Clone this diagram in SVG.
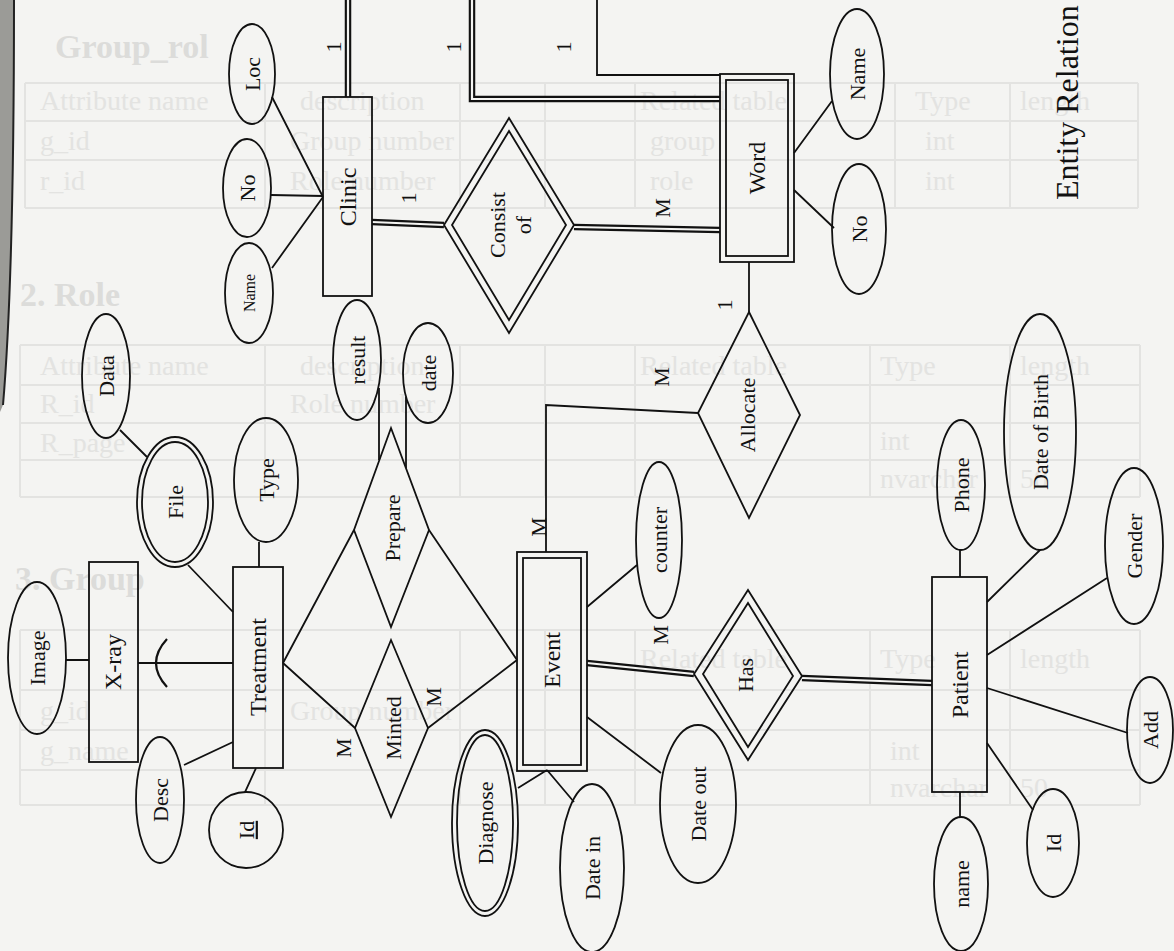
<svg xmlns="http://www.w3.org/2000/svg" width="1174" height="951" viewBox="0 0 1174 951">
<defs>
<style>
.paper{fill:#f4f4f2}
.ghost{fill:#e3e3e1;font-family:"Liberation Serif","Times New Roman",serif;font-size:28px}
.ghostb{font-weight:bold;font-size:34px;fill:#dcdcda}
.gl{stroke:#e3e3e1;stroke-width:2;fill:none}
.sh{fill:none;stroke:#111;stroke-width:1.8}
.ln{stroke:#111;stroke-width:1.8;fill:none}
.dbl{stroke:#111;stroke-width:6.5;fill:none;stroke-linejoin:miter}
.dblin{stroke:#f4f4f2;stroke-width:2.2;fill:none;stroke-linejoin:miter}
.t{font-family:"Liberation Serif","Times New Roman",serif;fill:#111;font-size:22px;text-anchor:middle}
.e{font-size:24px}
.s{font-size:16px}
.card{font-family:"Liberation Serif","Times New Roman",serif;fill:#111;font-size:22px;text-anchor:middle}
</style>
</defs>

<rect class="paper" x="0" y="0" width="1174" height="951"/>

<!-- show-through from the facing page -->
<g id="show-through">
  <g class="gl">
    <path d="M25,83 H1138 M25,121 H1138 M25,160 H1138 M25,208 H1138"/>
    <path d="M25,83 V208 M265,83 V208 M460,83 V208 M545,83 V208 M635,83 V208 M895,83 V208 M1010,83 V208 M1138,83 V208"/>
    <path d="M20,345 H1140 M20,385 H1140 M20,423 H1140 M20,460 H1140 M20,497 H1140"/>
    <path d="M20,345 V497 M265,345 V497 M460,345 V497 M545,345 V497 M635,345 V497 M870,345 V497 M1010,345 V497 M1140,345 V497"/>
    <path d="M20,630 H1140 M20,690 H1140 M20,730 H1140 M20,770 H1140 M20,805 H1140"/>
    <path d="M20,630 V805 M265,630 V805 M460,630 V805 M545,630 V805 M635,630 V805 M870,630 V805 M1010,630 V805 M1140,630 V805"/>
  </g>
  <text class="ghost ghostb" x="55" y="58">Group_rol</text>
  <text class="ghost" x="40" y="110">Attribute name</text>
  <text class="ghost" x="300" y="110">description</text>
  <text class="ghost" x="640" y="110">Related table</text>
  <text class="ghost" x="915" y="110">Type</text>
  <text class="ghost" x="1020" y="110">length</text>
  <text class="ghost" x="40" y="150">g_id</text>
  <text class="ghost" x="290" y="150">Group number</text>
  <text class="ghost" x="650" y="150">group</text>
  <text class="ghost" x="925" y="150">int</text>
  <text class="ghost" x="40" y="190">r_id</text>
  <text class="ghost" x="290" y="190">Role number</text>
  <text class="ghost" x="650" y="190">role</text>
  <text class="ghost" x="925" y="190">int</text>
  <text class="ghost ghostb" x="20" y="306">2.  Role</text>
  <text class="ghost" x="40" y="375">Attribute name</text>
  <text class="ghost" x="300" y="375">description</text>
  <text class="ghost" x="640" y="375">Related table</text>
  <text class="ghost" x="880" y="375">Type</text>
  <text class="ghost" x="1020" y="375">length</text>
  <text class="ghost" x="40" y="413">R_id</text>
  <text class="ghost" x="290" y="413">Role number</text>
  <text class="ghost" x="880" y="450">int</text>
  <text class="ghost" x="40" y="452">R_page</text>
  <text class="ghost" x="880" y="488">nvarchar</text>
  <text class="ghost" x="1020" y="488">50</text>
  <text class="ghost ghostb" x="15" y="590">3.  Group</text>
  <text class="ghost" x="640" y="668">Related table</text>
  <text class="ghost" x="880" y="668">Type</text>
  <text class="ghost" x="1020" y="668">length</text>
  <text class="ghost" x="40" y="720">g_id</text>
  <text class="ghost" x="290" y="720">Group number</text>
  <text class="ghost" x="40" y="760">g_name</text>
  <text class="ghost" x="890" y="760">int</text>
  <text class="ghost" x="890" y="797">nvarchar</text>
  <text class="ghost" x="1020" y="797">50</text>
</g>

<!-- page edge -->
<path d="M0,0 H14 C14,150 12,300 3,405 L0,412 Z" fill="#9b9b97"/>
<path d="M14,0 C14,150 12,300 3,405" stroke="#222" stroke-width="2" fill="none"/>

<!-- connectors -->
<g id="connectors">
  <!-- double (total participation) lines -->
  <path class="dbl" d="M348,0 V97"/><path class="dblin" d="M348,0 V97"/>
  <path class="dbl" d="M472,0 V99 H720"/><path class="dblin" d="M472,0 V99 H720"/>
  <path class="dbl" d="M372,222 L444,225"/><path class="dblin" d="M372,222 L444,225"/>
  <path class="dbl" d="M574,227 L720,230"/><path class="dblin" d="M574,227 L720,230"/>
  <path class="dbl" d="M587,663 L694,674"/><path class="dblin" d="M587,663 L694,674"/>
  <path class="dbl" d="M802,678 L932,683"/><path class="dblin" d="M802,678 L932,683"/>
  <!-- single lines -->
  <path class="ln" d="M597,0 V75 H720"/>
  <path class="ln" d="M272,97 L323,197 M271,195 L323,196 M272,268 L323,197"/>
  <path class="ln" d="M749,262 V312"/>
  <path class="ln" d="M794,153 L832,101 M794,190 L834,228"/>
  <path class="ln" d="M698,413 L546,405 V552"/>
  <path class="ln" d="M960,577 V550 M987,602 L1040,550 M987,655 L1107,578 M987,688 L1128,733 M987,743 L1033,810 M960,792 V817"/>
  <path class="ln" d="M587,607 L637,565 M587,717 L661,773 M547,770 L574,802 M547,770 L518,788"/>
  <path class="ln" d="M429,530 L517,660 M428,728 L517,660"/>
  <path class="ln" d="M283,663 L354,530 M283,663 L355,728"/>
  <path class="ln" d="M379,388 V460 M406,397 V468"/>
  <path class="ln" d="M259,567 V542 M233,612 L188,565 M147,457 L120,430"/>
  <path class="ln" d="M233,742 L184,765 M256,768 L245,792"/>
  <path class="ln" d="M138,663 H233 M66,660 H89"/>
  <path d="M167,639 Q145,663 167,687" stroke="#111" stroke-width="2.2" fill="none"/>
</g>

<!-- cardinalities -->
<g id="cardinalities">
  <text class="card" transform="translate(333,47) rotate(-90)" dy="0.35em">1</text>
  <text class="card" transform="translate(453,47) rotate(-90)" dy="0.35em">1</text>
  <text class="card" transform="translate(563,47) rotate(-90)" dy="0.35em">1</text>
  <text class="card" transform="translate(408,198) rotate(-90)" dy="0.35em">1</text>
  <text class="card" transform="translate(662,208) rotate(-90)" dy="0.35em">M</text>
  <text class="card" transform="translate(724,305) rotate(-90)" dy="0.35em">1</text>
  <text class="card" transform="translate(661,377) rotate(-90)" dy="0.35em">M</text>
  <text class="card" transform="translate(538,527) rotate(-90)" dy="0.35em">M</text>
  <text class="card" transform="translate(660,635) rotate(-90)" dy="0.35em">M</text>
  <text class="card" transform="translate(343,748) rotate(-90)" dy="0.35em">M</text>
  <text class="card" transform="translate(433,697) rotate(-90)" dy="0.35em">M</text>
</g>

<!-- entities -->
<g id="clinic"><rect class="sh" x="323" y="97" width="49" height="199"/><text class="t e" transform="translate(348,197) rotate(-90)" dy="0.35em">Clinic</text></g>
<g id="word"><rect class="sh" x="720" y="74" width="74" height="188"/><rect class="sh" x="726" y="80" width="62" height="176"/><text class="t e" transform="translate(757,168) rotate(-90)" dy="0.35em">Word</text></g>
<g id="event"><rect class="sh" x="517" y="552" width="70" height="219"/><rect class="sh" x="523" y="558" width="58" height="207"/><text class="t e" transform="translate(552,660) rotate(-90)" dy="0.35em">Event</text></g>
<g id="patient"><rect class="sh" x="932" y="577" width="55" height="215"/><text class="t e" transform="translate(960,685) rotate(-90)" dy="0.35em">Patient</text></g>
<g id="treatment"><rect class="sh" x="233" y="567" width="50" height="201"/><text class="t e" transform="translate(258,667) rotate(-90)" dy="0.35em">Treatment</text></g>
<g id="xray"><rect class="sh" x="89" y="562" width="49" height="200"/><text class="t e" transform="translate(113,662) rotate(-90)" dy="0.35em">X-ray</text></g>

<!-- relationships -->
<g id="consist-of"><polygon class="sh" points="509,118 574,225 509,333 444,225"/><polygon class="sh" points="509,131 566,225 509,320 452,225"/>
  <text class="t" transform="translate(497,225) rotate(-90)" dy="0.35em">Consist</text><text class="t" transform="translate(523,225) rotate(-90)" dy="0.35em">of</text></g>
<g id="allocate"><polygon class="sh" points="749,312 800,415 749,518 698,413"/><text class="t" transform="translate(747,415) rotate(-90)" dy="0.35em">Allocate</text></g>
<g id="has"><polygon class="sh" points="748,590 802,676 748,760 694,674"/><polygon class="sh" points="748,603 793,676 748,747 703,674"/><text class="t" transform="translate(745,675) rotate(-90)" dy="0.35em">Has</text></g>
<g id="prepare"><polygon class="sh" points="391,428 429,530 391,627 354,530"/><text class="t" transform="translate(392,528) rotate(-90)" dy="0.35em">Prepare</text></g>
<g id="minted"><polygon class="sh" points="391,640 428,728 391,817 355,728"/><text class="t" transform="translate(393,728) rotate(-90)" dy="0.35em">Minted</text></g>

<!-- attributes -->
<g id="clinic-loc"><ellipse class="sh" cx="252" cy="74" rx="23" ry="50"/><text class="t" transform="translate(252,74) rotate(-90)" dy="0.35em">Loc</text></g>
<g id="clinic-no"><ellipse class="sh" cx="247" cy="188" rx="24" ry="49"/><text class="t" transform="translate(247,188) rotate(-90)" dy="0.35em">No</text></g>
<g id="clinic-name"><ellipse class="sh" cx="249" cy="293" rx="24" ry="50"/><text class="t s" transform="translate(249,293) rotate(-90)" dy="0.35em">Name</text></g>
<g id="word-name"><ellipse class="sh" cx="857" cy="74" rx="27" ry="65"/><text class="t" transform="translate(857,74) rotate(-90)" dy="0.35em">Name</text></g>
<g id="word-no"><ellipse class="sh" cx="859" cy="229" rx="27" ry="65"/><text class="t" transform="translate(859,229) rotate(-90)" dy="0.35em">No</text></g>
<g id="data"><ellipse class="sh" cx="106" cy="376" rx="24" ry="62"/><text class="t" transform="translate(106,376) rotate(-90)" dy="0.35em">Data</text></g>
<g id="file"><ellipse class="sh" cx="175" cy="502" rx="38" ry="65"/><ellipse class="sh" cx="175" cy="502" rx="33" ry="60"/><text class="t" transform="translate(175,502) rotate(-90)" dy="0.35em">File</text></g>
<g id="type"><ellipse class="sh" cx="266" cy="480" rx="32" ry="62"/><text class="t" transform="translate(266,480) rotate(-90)" dy="0.35em">Type</text></g>
<g id="result"><ellipse class="sh" cx="357" cy="360" rx="24" ry="60"/><text class="t" transform="translate(357,360) rotate(-90)" dy="0.35em">result</text></g>
<g id="date"><ellipse class="sh" cx="428" cy="373" rx="25" ry="50"/><text class="t" transform="translate(428,373) rotate(-90)" dy="0.35em">date</text></g>
<g id="image"><ellipse class="sh" cx="37" cy="658" rx="29" ry="76"/><text class="t" transform="translate(37,658) rotate(-90)" dy="0.35em">Image</text></g>
<g id="desc"><ellipse class="sh" cx="160" cy="800" rx="24" ry="63"/><text class="t" transform="translate(160,800) rotate(-90)" dy="0.35em">Desc</text></g>
<g id="treatment-id"><ellipse class="sh" cx="246" cy="830" rx="37" ry="38"/><text class="t" transform="translate(246,830) rotate(-90)" dy="0.35em" text-decoration="underline">Id</text></g>
<g id="diagnose"><ellipse class="sh" cx="485" cy="823" rx="33" ry="93"/><ellipse class="sh" cx="485" cy="823" rx="28" ry="88"/><text class="t" transform="translate(485,823) rotate(-90)" dy="0.35em">Diagnose</text></g>
<g id="date-in"><ellipse class="sh" cx="592" cy="868" rx="32" ry="84"/><text class="t" transform="translate(592,868) rotate(-90)" dy="0.35em">Date in</text></g>
<g id="date-out"><ellipse class="sh" cx="698" cy="804" rx="38" ry="79"/><text class="t" transform="translate(698,804) rotate(-90)" dy="0.35em">Date out</text></g>
<g id="counter"><ellipse class="sh" cx="659" cy="540" rx="23" ry="78"/><text class="t" transform="translate(659,540) rotate(-90)" dy="0.35em">counter</text></g>
<g id="phone"><ellipse class="sh" cx="961" cy="485" rx="24" ry="65"/><text class="t" transform="translate(961,485) rotate(-90)" dy="0.35em">Phone</text></g>
<g id="date-of-birth"><ellipse class="sh" cx="1040" cy="432" rx="36" ry="118"/><text class="t" transform="translate(1040,432) rotate(-90)" dy="0.35em">Date of Birth</text></g>
<g id="gender"><ellipse class="sh" cx="1134" cy="546" rx="29" ry="78"/><text class="t" transform="translate(1134,546) rotate(-90)" dy="0.35em">Gender</text></g>
<g id="add"><ellipse class="sh" cx="1150" cy="730" rx="23" ry="53"/><text class="t" transform="translate(1150,730) rotate(-90)" dy="0.35em">Add</text></g>
<g id="patient-id"><ellipse class="sh" cx="1053" cy="843" rx="26" ry="54"/><text class="t" transform="translate(1053,843) rotate(-90)" dy="0.35em">Id</text></g>
<g id="patient-name"><ellipse class="sh" cx="961" cy="884" rx="27" ry="67"/><text class="t" transform="translate(961,884) rotate(-90)" dy="0.35em">name</text></g>

<!-- caption -->
<text transform="translate(1078,200) rotate(-90)" font-family="'Liberation Serif','Times New Roman',serif" font-size="32" fill="#111">Entity Relation</text>
</svg>
